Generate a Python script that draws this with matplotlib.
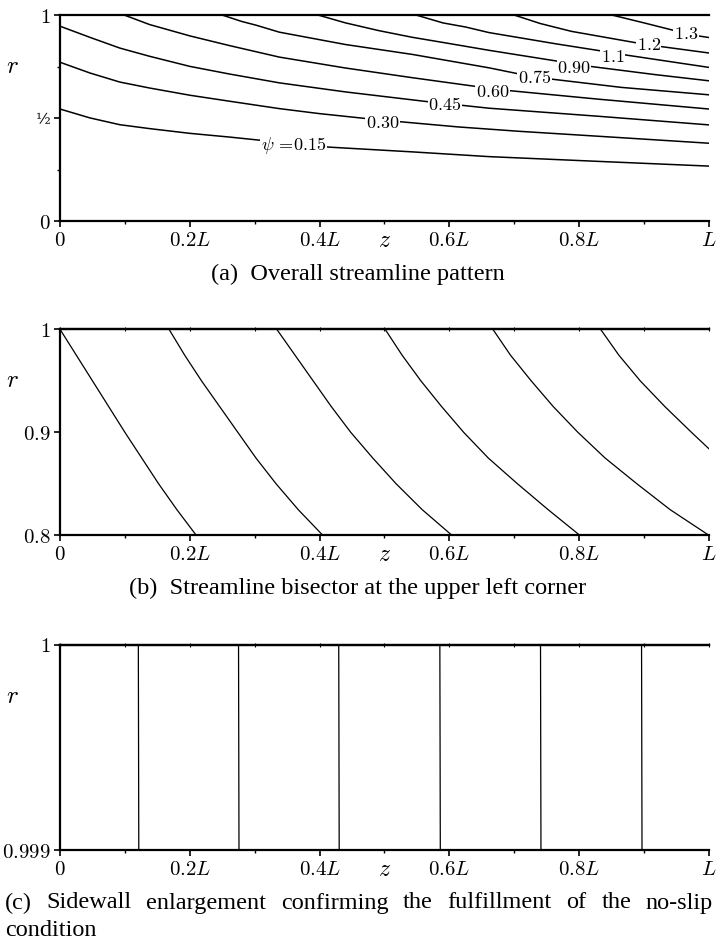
import matplotlib
matplotlib.use("Agg")
import matplotlib.pyplot as plt

plt.rcParams["mathtext.fontset"] = "cm"
plt.rcParams["font.family"] = "DejaVu Serif"

# ---- data ----
x_ticks = [0, 0.2, 0.4, 0.6, 0.8, 1.0]
x_tick_labels = [r"$0$", r"$0.2L$", r"$0.4L$", r"$0.6L$", r"$0.8L$", r"$L$"]
x_minor = [0.1, 0.3, 0.5, 0.7, 0.9]

# (a) streamlines psi = const
psi_labels = [r"$\psi\,=\!0.15$", r"$0.30$", r"$0.45$", r"$0.60$", r"$0.75$",
              r"$0.90$", r"$1.1$", r"$1.2$", r"$1.3$"]
label_z = [0.360, 0.497, 0.593, 0.667, 0.731, 0.792, 0.852, 0.907, 0.965]
label_r = [0.366, 0.478, 0.564, 0.629, 0.694, 0.745, 0.797, 0.854, 0.909]

stream_z = [
    [0, 0.046, 0.092, 0.138, 0.2, 0.261, 0.31, 0.415, 0.543, 0.661, 0.829, 1.0],
    [0, 0.046, 0.092, 0.138, 0.2, 0.261, 0.338, 0.399, 0.471, 0.522, 0.614, 0.707, 0.829, 1.0],
    [0, 0.046, 0.092, 0.138, 0.2, 0.261, 0.338, 0.44, 0.563, 0.661, 0.829, 1.0],
    [0.1, 0.138, 0.2, 0.261, 0.338, 0.44, 0.543, 0.64, 0.69, 0.829, 1.0],
    [0.251, 0.28, 0.302, 0.338, 0.44, 0.543, 0.661, 0.731, 0.865, 1.0],
    [0.399, 0.44, 0.492, 0.543, 0.594, 0.661, 0.765, 0.817, 0.917, 1.0],
    [0.55, 0.59, 0.625, 0.661, 0.763, 0.852, 0.87, 1.0],
    [0.701, 0.74, 0.788, 0.885, 0.924, 1.0],
    [0.852, 0.9, 0.944, 0.983, 1.0],
]
stream_r = [
    [0.545, 0.502, 0.469, 0.450, 0.427, 0.409, 0.393, 0.360, 0.337, 0.314, 0.291, 0.268],
    [0.772, 0.720, 0.676, 0.647, 0.612, 0.583, 0.547, 0.523, 0.499, 0.484, 0.458, 0.437, 0.413, 0.379],
    [0.947, 0.893, 0.841, 0.801, 0.752, 0.715, 0.672, 0.628, 0.582, 0.549, 0.510, 0.468],
    [1.0, 0.955, 0.900, 0.853, 0.797, 0.744, 0.697, 0.655, 0.635, 0.593, 0.545],
    [1.0, 0.970, 0.952, 0.918, 0.858, 0.810, 0.745, 0.700, 0.650, 0.614],
    [1.0, 0.963, 0.925, 0.893, 0.866, 0.830, 0.778, 0.752, 0.712, 0.682],
    [1.0, 0.963, 0.943, 0.916, 0.862, 0.818, 0.808, 0.747],
    [1.0, 0.960, 0.922, 0.868, 0.849, 0.817],
    [1.0, 0.963, 0.928, 0.900, 0.892],
]

# (b) close-up of the upper left corner, r from 0.8 to 1
corner_r = [1.0, 0.975, 0.95, 0.925, 0.9, 0.875, 0.85, 0.825, 0.8]
corner_z = [
    [0, 0.025, 0.050, 0.075, 0.100, 0.126, 0.152, 0.180, 0.210],
    [0.168, 0.192, 0.218, 0.246, 0.274, 0.302, 0.333, 0.367, 0.405],
    [0.334, 0.362, 0.390, 0.418, 0.448, 0.482, 0.518, 0.558, 0.604],
    [0.501, 0.527, 0.556, 0.588, 0.622, 0.660, 0.705, 0.752, 0.801],
    [0.667, 0.694, 0.726, 0.760, 0.798, 0.840, 0.889, 0.940, 1.0],
    [0.833, 0.861, 0.894, 0.932, 0.973],
]
corner6_end = (1.0, 0.884)   # last curve leaves through the right edge

# (c) sidewall, r from 0.999 to 1
wall_z_bottom = [0.1214, 0.2758, 0.4302, 0.5860, 0.7411, 0.8968]
wall_z_top = [0.1207, 0.2751, 0.4295, 0.5853, 0.7404, 0.8961]

caption_a = "(a)  Overall streamline pattern"
caption_b = "(b)  Streamline bisector at the upper left corner"
caption_c1 = "(c) Sidewall enlargement confirming the fulfillment of the no-slip"
caption_c2 = "condition"

cap_font = dict(family="Liberation Serif", size=17.5)


def style_axes(ax, yticks, ylabels, yminor, top_ticks):
    ax.set_xlim(0, 1)
    ax.set_ylim(yticks[0], yticks[-1])
    ax.spines["right"].set_visible(False)
    for s in ["left", "bottom", "top"]:
        ax.spines[s].set_linewidth(1.6)
    ax.set_xticks(x_ticks)
    ax.set_xticklabels(x_tick_labels)
    ax.set_xticks(x_minor, minor=True)
    ax.set_yticks(yticks)
    ax.set_yticklabels(ylabels)
    ax.set_yticks(yminor, minor=True)
    ax.tick_params(which="major", direction="out", length=4, width=1.2,
                   labelsize=15, pad=3)
    ax.tick_params(which="minor", direction="out", length=2.5, width=1.0)
    if top_ticks:
        sec = ax.secondary_xaxis("top")
        sec.set_xticks(x_ticks + x_minor)
        sec.set_xticklabels([])
        sec.tick_params(direction="inout", length=3, width=0.8)
        sec.spines["top"].set_linewidth(1.6)
    ax.text(0.5, -0.095, r"$z$", transform=ax.transAxes, ha="center",
            va="center", fontsize=17)
    ax.text(-0.074, 0.75, r"$r$", transform=ax.transAxes, ha="center",
            va="center", fontsize=18)


fig = plt.figure(figsize=(7.16, 9.43), dpi=100)
ax_left, ax_width = 0.0838, 0.9064

# (a)
ax = fig.add_axes([ax_left, 0.7653, ax_width, 0.2185])
for zs, rs in zip(stream_z, stream_r):
    ax.plot(zs, rs, color="black", lw=1.1)
for txt, zc, rc in zip(psi_labels, label_z, label_r):
    ax.text(zc, rc, txt, ha="center", va="center", fontsize=13,
            bbox=dict(facecolor="white", edgecolor="none", pad=0.5))
style_axes(ax, [0, 0.5, 1], [r"$0$", "½", r"$1$"], [0.25, 0.75], False)
ax.get_yticklabels()[1].set_fontsize(11)
fig.text(0.5, 1 - 274 / 943, caption_a, ha="center", va="center", **cap_font)

# (b)
ax = fig.add_axes([ax_left, 0.4323, ax_width, 0.2185])
for zs in corner_z:
    rs = corner_r[:len(zs)]
    if len(zs) < len(corner_r):
        zs = zs + [corner6_end[0]]
        rs = rs + [corner6_end[1]]
    ax.plot(zs, rs, color="black", lw=0.9)
style_axes(ax, [0.8, 0.9, 1.0], [r"$0.8$", r"$0.9$", r"$1$"], [], True)
fig.text(0.5, 1 - 588 / 943, caption_b, ha="center", va="center", **cap_font)

# (c)
ax = fig.add_axes([ax_left, 0.0986, ax_width, 0.2177])
for zb, zt in zip(wall_z_bottom, wall_z_top):
    ax.plot([zb, zt], [0.999, 1.0], color="black", lw=0.9)
style_axes(ax, [0.999, 1.0], [r"$0.999$", r"$1$"], [], True)

# justified first caption line for (c)
renderer = fig.canvas.get_renderer()
words = caption_c1.split()
word_texts = [fig.text(0, 1 - 903 / 943, w, ha="left", va="center", **cap_font)
              for w in words]
widths = [t.get_window_extent(renderer).width for t in word_texts]
left, right = 5, 713
gap = (right - left - sum(widths)) / (len(words) - 1)
xpos = left
for t, w in zip(word_texts, widths):
    t.set_x(xpos / 716)
    xpos += w + gap
fig.text(5 / 716, 1 - 930 / 943, caption_c2, ha="left", va="center", **cap_font)

fig.savefig("out.png", dpi=100)
